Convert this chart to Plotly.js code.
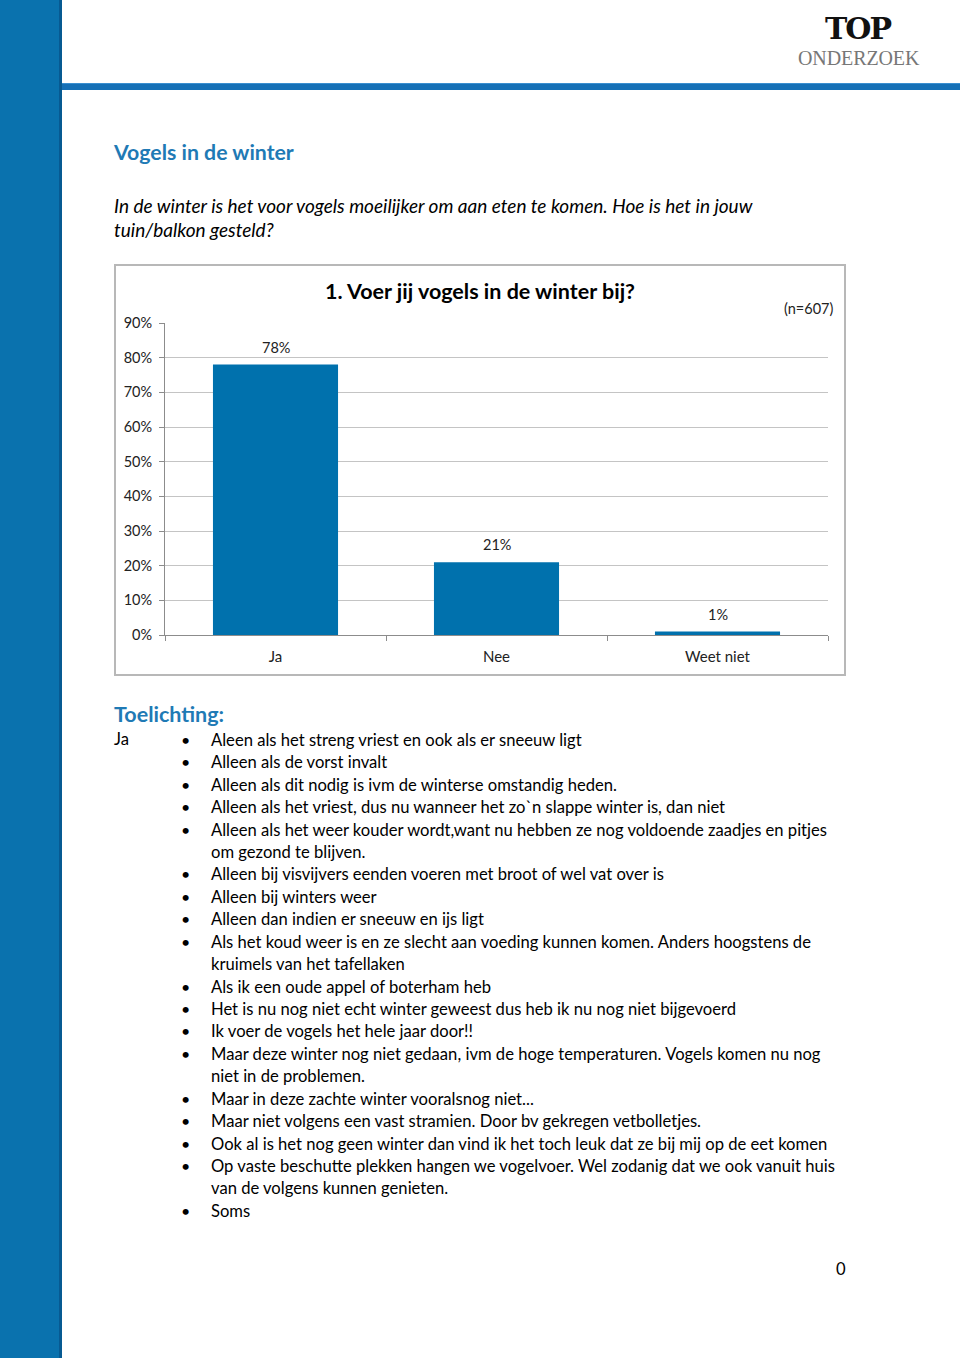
<!DOCTYPE html>
<html>
<head>
<meta charset="utf-8">
<script src="https://cdn.plot.ly/plotly-3.0.1.min.js"></script>
<style>
  html, body { margin:0; padding:0; background:#fff; }
  body { width:960px; height:1358px; position:relative; overflow:hidden; font-family: Lato, "Open Sans", sans-serif; color:#000; }
  .abs { position:absolute; }
  #leftbar { left:0; top:0; width:62px; height:1358px; background:#0a72ae; border-right:3px solid #075a92; box-sizing:border-box; }
  #topline { left:62px; top:83px; width:898px; height:7px; background:#1570b6; border-top:1px solid #3a8fd0; box-sizing:border-box; }
  #logo1 { left:825px; top:11px; font-family:"DejaVu Serif","Liberation Serif",serif; font-weight:bold; font-size:30px; letter-spacing:-2px; color:#111; line-height:35px; }
  #logo2 { left:798px; top:47px; font-family:"Liberation Serif","DejaVu Serif",serif; font-size:20px; color:#777; line-height:23px; letter-spacing:-0.1px; }
  #h1 { left:114px; top:139px; font-size:21.3px; font-weight:bold; color:#1f7ab5; line-height:26px; }
  #q { left:114px; top:194px; font-size:19px; font-style:italic; line-height:23.5px; color:#000; white-space:nowrap; }
  #chart { left:114px; top:264px; width:732px; height:412px; }
  #chartborder { left:114px; top:264px; width:732px; height:412px; border:2px solid #b8b8b8; box-sizing:border-box; pointer-events:none; }
  #toel { left:114px; top:700px; font-size:21.5px; font-weight:bold; color:#1f7ab5; line-height:28px; }
  #ja { left:114px; top:728px; font-size:16.6px; line-height:22.4px; }
  .line { position:absolute; left:211px; font-size:16.6px; line-height:22.43px; white-space:nowrap; }
  .bullet { position:absolute; left:181px; font-size:16px; line-height:22.43px; }
  #pnum { left:836px; top:1259px; font-size:16.6px; line-height:20px; }
</style>
</head>
<body>
<div id="leftbar" class="abs"></div>
<div id="topline" class="abs"></div>
<div id="logo1" class="abs">TOP</div>
<div id="logo2" class="abs">ONDERZOEK</div>
<div id="h1" class="abs">Vogels in de winter</div>
<div id="q" class="abs">In de winter is het voor vogels moeilijker om aan eten te komen. Hoe is het in jouw<br>tuin/balkon gesteld?</div>
<div id="chart" class="abs"></div>
<div id="chartborder" class="abs"></div>
<div id="toel" class="abs">Toelichting:</div>
<div id="ja" class="abs">Ja</div>
<div id="comments"></div>
<div id="pnum" class="abs">0</div>
<script>
// ---- data ----
var categories = ["Ja", "Nee", "Weet niet"];
var values = [0.78, 0.21, 0.01];
var valueLabels = ["78%", "21%", "1%"];
var chartTitle = "1. Voer jij vogels in de winter bij?";
var sampleNote = "(n=607)";
var comments = [
  "Aleen als het streng vriest en ook als er sneeuw ligt",
  "Alleen als de vorst invalt",
  "Alleen als dit nodig is ivm de winterse omstandig heden.",
  "Alleen als het vriest, dus nu wanneer het zo`n slappe winter is, dan niet",
  "Alleen als het weer kouder wordt,want nu hebben ze nog voldoende zaadjes en pitjes\nom gezond te blijven.",
  "Alleen bij visvijvers eenden voeren met broot of wel vat over is",
  "Alleen bij winters weer",
  "Alleen dan indien er sneeuw en ijs ligt",
  "Als het koud weer is en ze slecht aan voeding kunnen komen. Anders hoogstens de\nkruimels van het tafellaken",
  "Als ik een oude appel of boterham heb",
  "Het is nu nog niet echt winter geweest dus heb ik nu nog niet bijgevoerd",
  "Ik voer de vogels het hele jaar door!!",
  "Maar deze winter nog niet gedaan, ivm de hoge temperaturen. Vogels komen nu nog\nniet in de problemen.",
  "Maar in deze zachte winter vooralsnog niet...",
  "Maar niet volgens een vast stramien. Door bv gekregen vetbolletjes.",
  "Ook al is het nog geen winter dan vind ik het toch leuk dat ze bij mij op de eet komen",
  "Op vaste beschutte plekken hangen we vogelvoer. Wel zodanig dat we ook vanuit huis\nvan de volgens kunnen genieten.",
  "Soms"
];

// ---- comment list ----
(function(){
  var box = document.getElementById('comments');
  var lh = 22.43, top = 740 - lh/2;
  comments.forEach(function(c){
    var parts = c.split("\n");
    var b = document.createElement('div');
    b.className = 'bullet'; b.style.top = top + 'px'; b.textContent = '\u2022';
    box.appendChild(b);
    parts.forEach(function(p){
      var d = document.createElement('div');
      d.className = 'line'; d.style.top = top + 'px'; d.textContent = p;
      box.appendChild(d);
      top += lh;
    });
  });
})();

// ---- chart ----
var font = "Lato, 'Open Sans', sans-serif";
var trace = {
  type: 'bar',
  x: categories,
  y: values,
  marker: { color: '#0071ad' },
  hoverinfo: 'none'
};
var annotations = categories.map(function(c, i){
  return { x: c, y: values[i], xref: 'x', yref: 'y', text: valueLabels[i], showarrow: false,
           yanchor: 'bottom', yshift: 7, font: { family: font, size: 14.5, color: '#222' } };
});
annotations.push({ xref: 'paper', yref: 'paper', x: 0.97, y: 1.048, text: sampleNote, showarrow: false,
  xanchor: 'center', yanchor: 'middle', font: { family: font, size: 14.5, color: '#222' } });

var layout = {
  width: 732, height: 412,
  margin: { l: 51, r: 18, t: 59, b: 41, pad: 0 },
  paper_bgcolor: 'rgba(0,0,0,0)', plot_bgcolor: 'rgba(0,0,0,0)',
  showlegend: false,
  bargap: 0.434,
  title: { text: '<b>' + chartTitle + '</b>', x: 0.5, xref: 'container', xanchor: 'center',
           y: 1 - 27/412, yref: 'container', yanchor: 'middle',
           font: { family: font, size: 21.5, color: '#000' } },
  font: { family: font, size: 14.5, color: '#222' },
  xaxis: {
    type: 'category', tickson: 'boundaries', ticks: 'outside', ticklen: 5, tickcolor: '#8c8c8c',
    showline: true, linecolor: '#8c8c8c', linewidth: 1, showgrid: false,
    ticklabelstandoff: 8,
    tickfont: { family: font, size: 15, color: '#222' }
  },
  yaxis: {
    range: [0, 0.9], dtick: 0.1, tick0: 0, tickformat: '.0%',
    showgrid: true, gridcolor: '#c4c4c4', gridwidth: 1, zeroline: false,
    showline: true, linecolor: '#8c8c8c', linewidth: 1,
    ticks: 'outside', ticklen: 5, tickcolor: '#8c8c8c', ticklabelstandoff: 4,
    tickfont: { family: font, size: 14.5, color: '#222' }
  },
  annotations: annotations
};
Plotly.newPlot('chart', [trace], layout, { staticPlot: true, displayModeBar: false });
</script>
</body>
</html>
